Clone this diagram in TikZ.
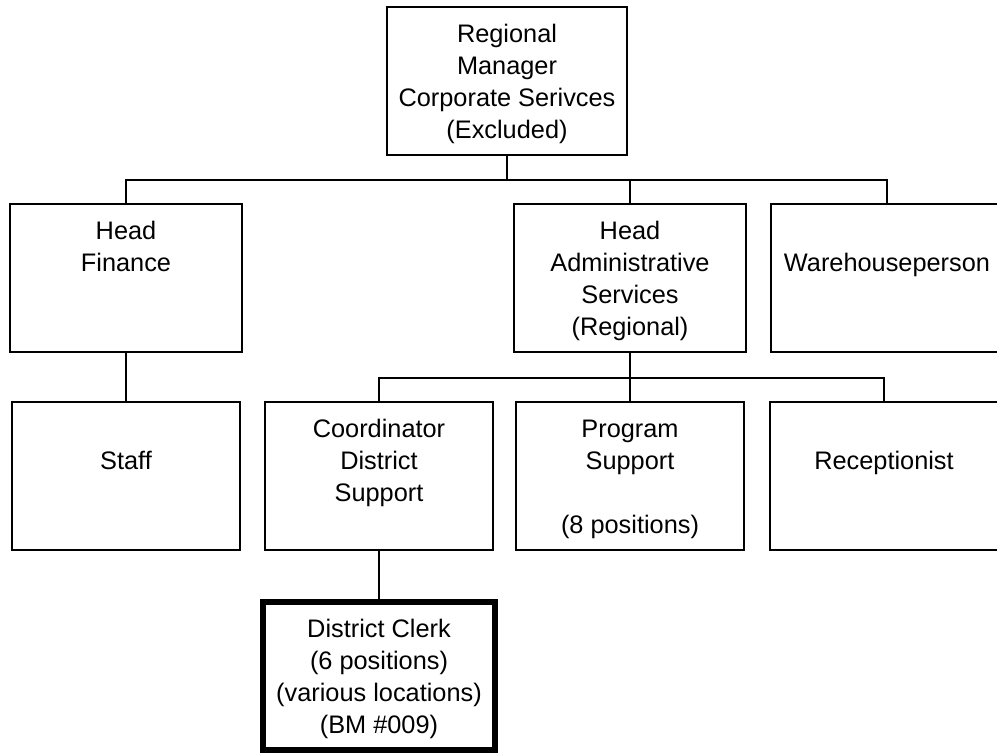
\documentclass[tikz,border=0pt]{standalone}
\usepackage{fontspec}
\setmainfont{Liberation Sans}
\tikzset{
  post box/.style 2 args={draw,line width=1.2pt,inner sep=0pt,
    execute at begin node={\begin{minipage}[c][#2][t]{#1}\centering\vspace*{9.5pt}\strut\ignorespaces},
    execute at end node={\end{minipage}}},
  clerk box/.style 2 args={post box={#1}{#2},line width=4.5pt},
  busline/.style={draw,line width=1.2pt}
}
\begin{document}
\begin{tikzpicture}[x=0.75pt,y=-0.75pt,font=\fontsize{19pt}{24pt}\selectfont]
\useasboundingbox (0,0) rectangle (997,753);
\clip (0,0) rectangle (997,753);
% ---- top ----
\node[post box={180pt}{111pt}] (rm) at (507,81) {Regional\\Manager\\Corporate Serivces\\(Excluded)};
% ---- second row ----
\node[post box={174pt}{111pt}] (hf) at (126,278) {Head\\Finance};
\node[post box={174pt}{111pt}] (ha) at (630,278) {Head\\Administrative\\Services\\(Regional)};
\node[post box={174pt}{111pt}] (wh) at (887,278) {\mbox{}\\Warehouseperson};
% ---- third row ----
\node[post box={171pt}{111pt}] (st) at (126,476) {\mbox{}\\Staff};
\node[post box={171pt}{111pt}] (cd) at (379,476) {Coordinator\\District\\Support};
\node[post box={171pt}{111pt}] (ps) at (630,476) {Program\\Support\\[24pt](8 positions)};
\node[post box={171pt}{111pt}] (rc) at (884,476) {\mbox{}\\Receptionist};
% ---- bottom ----
\node[clerk box={174pt}{111pt}] (dc) at (379,676) {District Clerk\\(6 positions)\\(various locations)\\(BM \#009)};
% ---- connectors ----
\coordinate (b1) at (507,180);
\coordinate (b2) at (630,378);
\draw[busline] (rm.south) -- (b1);
\draw[busline] (hf.north) |- (b1) -| (wh.north);
\draw[busline] (ha.north) -- (ha.north |- b1);
\draw[busline] (hf.south) -- (st.north);
\draw[busline] (ha.south) -- (b2);
\draw[busline] (cd.north) |- (b2) -| (rc.north);
\draw[busline] (b2) -- (ps.north);
\draw[busline] (cd.south) -- (dc.north);
\end{tikzpicture}
\end{document}
